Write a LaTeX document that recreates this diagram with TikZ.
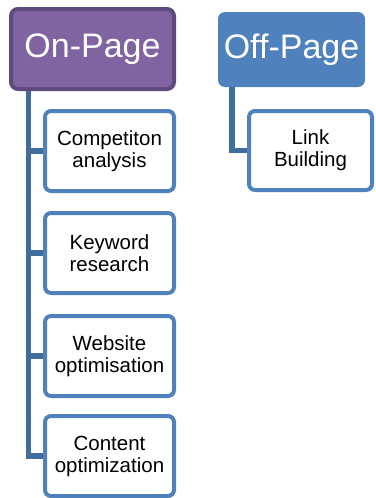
\documentclass[tikz,border=0pt]{standalone}
\usepackage{fontspec}
\setmainfont{Liberation Sans}
\usetikzlibrary{backgrounds}
\definecolor{onfill}{HTML}{8064A2}
\definecolor{onborder}{HTML}{5F4A7E}
\definecolor{offfill}{HTML}{4F81BD}
\definecolor{childborder}{HTML}{4F81BD}
\definecolor{connblue}{HTML}{3F6D9E}
\begin{document}
\begin{tikzpicture}[x=1pt,y=-1pt,
  topbox/.style={rectangle, rounded corners=7pt, inner sep=0pt, align=center, text=white,
    font=\fontsize{34}{38}\selectfont},
  childbox/.style={rectangle, rounded corners=6pt, draw=childborder, line width=4pt, fill=white,
    minimum width=129pt, minimum height=80pt, inner sep=0pt, align=center,
    font=\fontsize{20.5}{22}\selectfont},
  conn/.style={draw=connblue, line width=5.5pt}]
\useasboundingbox (0,0) rectangle (375,498);
\coordinate (sp) at (28.5,0);
\coordinate (sq) at (232,0);
\node[topbox, draw=onborder, fill=onfill, line width=4pt, minimum width=163pt, minimum height=80pt] (onp) at (92.5,49) {On-Page};
\node[topbox, fill=offfill, minimum width=147pt, minimum height=75pt] (offp) at (291.5,49.5) {Off-Page};
\node[childbox] (c1) at (109.5,151) {Competiton\\analysis};
\node[childbox] (c2) at (109.5,253) {Keyword\\research};
\node[childbox] (c3) at (109.5,356) {Website\\optimisation};
\node[childbox] (c4) at (109.5,456) {Content\\optimization};
\node[childbox, minimum width=123pt, minimum height=79pt] (lb) at (310.5,150.5) {Link\\Building};
\begin{pgfonlayer}{background}
\draw[conn] (onp.south -| sp) |- (c1.west);
\draw[conn] (onp.south -| sp) |- (c2.west);
\draw[conn] (onp.south -| sp) |- (c3.west);
\draw[conn] (onp.south -| sp) |- (c4.west);
\draw[conn] (offp.south -| sq) |- (lb.west);
\end{pgfonlayer}
\end{tikzpicture}
\end{document}
